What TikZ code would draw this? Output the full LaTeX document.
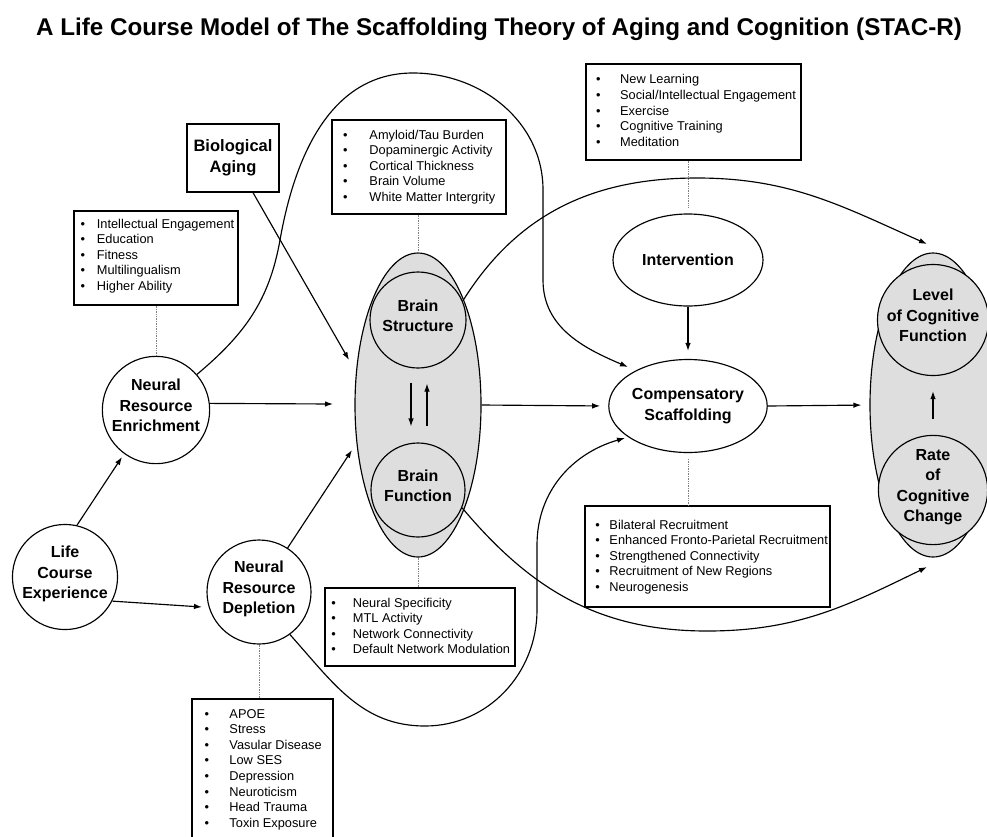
\documentclass[tikz,border=0pt]{standalone}
\usepackage{fontspec}
\setmainfont{Liberation Sans}
\usetikzlibrary{arrows.meta,shapes.geometric}
\newcommand\bulist[2]{\begin{tabular}{@{}l@{\hspace{#1pt}}l@{}}#2\end{tabular}}
\definecolor{shade}{gray}{0.87}
\tikzset{
  lw/.style={line width=1.15pt},
  arr/.style={lw,-{Latex[length=8pt,width=5.5pt]}},
  dotl/.style={densely dotted,gray,line width=0.7pt},
  cnode/.style={circle,draw,lw,inner sep=0pt,align=center,text depth=9pt,font=\bfseries\fontsize{16}{20.5}\selectfont},
  enode/.style={ellipse,draw,lw,inner sep=0pt,align=center,font=\bfseries\fontsize{16}{20.5}\selectfont},
  lbox/.style={rectangle,draw,line width=1.2pt,inner sep=0pt},
  ltext/.style={anchor=north west,inner sep=0pt,font=\fontsize{12.8}{15.6}\selectfont}
}
\begin{document}
\begin{tikzpicture}[x=1pt,y=1pt]
\useasboundingbox (0,0) rectangle (987,-836);
% title
\node[anchor=base,inner sep=0pt,font=\bfseries\fontsize{24.2}{29}\selectfont] (title) at (499,-35)
  {A Life Course Model of The Scaffolding Theory of Aging and Cognition (STAC-R)};
% big gray ellipses
\node[ellipse,draw,lw,fill=shade,minimum width=126,minimum height=304,inner sep=0pt] (brain) at (418,-405) {};
\node[ellipse,draw,lw,fill=shade,minimum width=126,minimum height=304,inner sep=0pt] (cog) at (933,-405) {};
% circles
\node[cnode,fill=shade,minimum size=96] (bs) at (418,-320) {Brain\\Structure};
\node[cnode,fill=shade,minimum size=94] (bf) at (418,-490) {Brain\\Function};
\node[cnode,fill=shade,minimum size=96] (lcf) at (933,-320) {Level\\of Cognitive\\Function};
\node[cnode,fill=shade,minimum size=94] (rcc) at (933,-490) {Rate\\of\\Cognitive\\Change};
\node[cnode,minimum size=104] (nre) at (156,-410) {Neural\\Resource\\Enrichment};
\node[cnode,minimum size=104] (lce) at (65,-577) {Life\\Course\\Experience};
\node[cnode,minimum size=104] (nrd) at (259,-592) {Neural\\Resource\\Depletion};
\node[enode,minimum width=150,minimum height=92] (int) at (688,-260) {Intervention};
\node[enode,minimum width=150,minimum height=93] (cs) at (688,-406) {Compensatory\\Scaffolding};
% boxes
\node[lbox,minimum width=92,minimum height=68,align=center,font=\bfseries\fontsize{16.5}{21}\selectfont] (bio) at (233,-158) {Biological\\Aging};
\node[lbox,minimum width=164,minimum height=94] (nrebox) at (156,-258) {};
\node[lbox,minimum width=174,minimum height=94] (brainbox) at (419,-167) {};
\node[lbox,minimum width=215,minimum height=96] (intbox) at (693.5,-112) {};
\node[lbox,minimum width=141,minimum height=141] (blbox) at (262.5,-769.5) {};
\node[lbox,minimum width=190,minimum height=78] (funcbox) at (420,-627) {};
\node[lbox,minimum width=245,minimum height=101] (csbox) at (707.5,-556.5) {};
% lists
\node[ltext] (nrelist) at (80.5,-217) {\bulist{11.7}{\textbullet & Intellectual Engagement\\ \textbullet & Education\\ \textbullet & Fitness\\ \textbullet & Multilingualism\\ \textbullet & Higher Ability}};
\node[ltext] (brainlist) at (342.8,-128) {\bulist{22}{\textbullet & Amyloid/Tau Burden\\ \textbullet & Dopaminergic Activity\\ \textbullet & Cortical Thickness\\ \textbullet & Brain Volume\\ \textbullet & White Matter Intergrity}};
\node[ltext] (intlist) at (595.8,-72.7) {\bulist{19.7}{\textbullet & New Learning\\ \textbullet & Social/Intellectual Engagement\\ \textbullet & Exercise\\ \textbullet & Cognitive Training\\ \textbullet & Meditation}};
\node[ltext] (bllist) at (204.5,-707) {\bulist{20.3}{\textbullet & APOE\\ \textbullet & Stress\\ \textbullet & Vasular Disease\\ \textbullet & Low SES\\ \textbullet & Depression\\ \textbullet & Neuroticism\\ \textbullet & Head Trauma\\ \textbullet & Toxin Exposure}};
\node[ltext] (funclist) at (331.1,-596) {\bulist{17.1}{\textbullet & Neural Specificity\\ \textbullet & MTL Activity\\ \textbullet & Network Connectivity\\ \textbullet & Default Network Modulation}};
\node[ltext] (cslist) at (595.1,-518) {\bulist{9.7}{\textbullet & Bilateral Recruitment\\ \textbullet & Enhanced Fronto-Parietal Recruitment\\ \textbullet & Strengthened Connectivity\\ \textbullet & Recruitment of New Regions\\ \textbullet & Neurogenesis}};
% dotted links
\draw[dotl] (nrebox.south) -- (nre.north);
\draw[dotl] (brain.north |- brainbox.south) -- (brain.north);
\draw[dotl] (brain.south) -- (brain.south |- funcbox.north);
\draw[dotl] (nrd.south) -- (nrd.south |- blbox.north);
\draw[dotl] (int.north |- intbox.south) -- ([yshift=6pt]int.north);
\draw[dotl] ([yshift=-6pt]cs.south) -- (cs.south |- csbox.north);
% arrow end points
\coordinate (eA) at (122,-457);
\coordinate (eB) at (202,-607);
\coordinate (eC) at (333,-404);
\coordinate (eD) at (349,-360);
\coordinate (eE) at (352,-450);
\coordinate (eF) at (628,-367);
\coordinate (eG) at (927,-244);
\coordinate (eH) at (927,-567);
\coordinate (eI) at (625,-438);
% straight arrows
\draw[arr] (lce.77) -- (eA);
\draw[arr] (lce.-27) -- (eB);
\draw[arr] (nre.7) -- (eC);
\draw[arr] (bio.-60) -- (eD);
\draw[arr] (nrd.57) -- (eE);
\draw[arr,shorten >=8pt] (brain.east) -- (cs.west);
\draw[arr,shorten >=8pt] (cs.east) -- (cog.west);
\draw[arr,shorten >=8pt] (int.south) -- (cs.north);
\draw[arr] ([xshift=-7pt,yshift=-14pt]bs.south) -- ([xshift=-7pt,yshift=16pt]bf.north);
\draw[arr] ([xshift=9pt,yshift=16pt]bf.north) -- ([xshift=9pt,yshift=-15pt]bs.south);
\draw[arr] ([yshift=16pt]rcc.north) -- ([yshift=-15pt]lcf.south);
% curved arrows
\draw[arr] (nre.41) to[out=40,in=-100] (280,-240) to[out=80,in=180] (413,-73)
  to[out=0,in=90] (543,-190) -- (543,-280) to[out=-90,in=157] (eF);
\draw[arr] (bs.23) to[out=58,in=180] (697,-178) to[out=0,in=156] (eG);
\draw[arr] (bf.-22) to[out=-50,in=180] (707,-631) to[out=0,in=-154] (eH);
\draw[arr] (nrd.-54) to[out=-48,in=180] (425,-726) to[out=0,in=-90] (537,-610)
  -- (537,-545) to[out=90,in=-164] (eI);
\end{tikzpicture}
\end{document}
